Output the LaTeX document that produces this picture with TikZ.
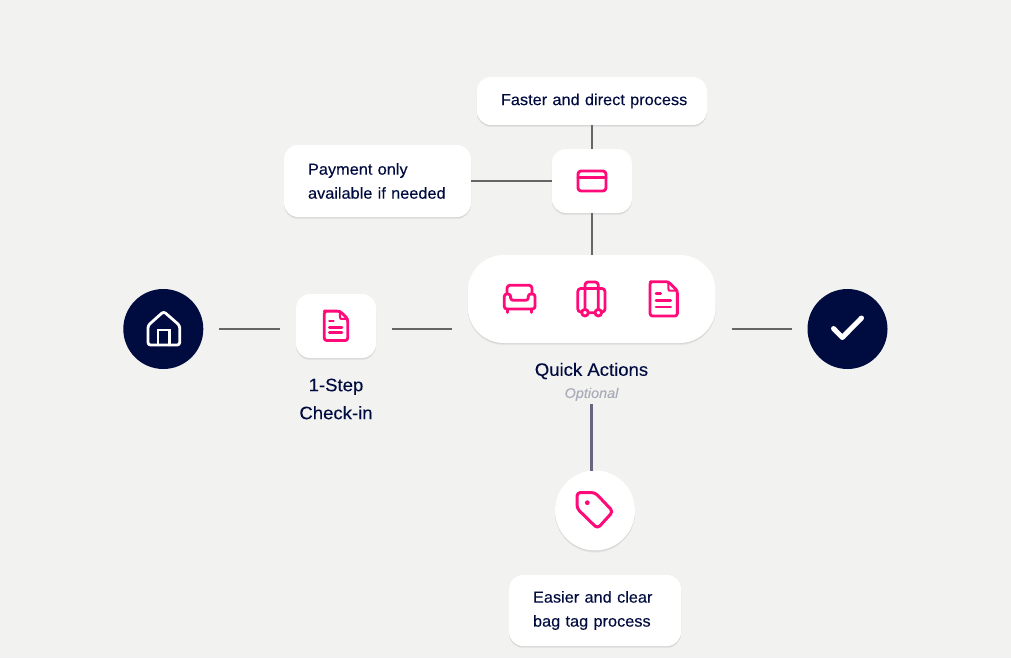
\documentclass[tikz,border=0pt]{standalone}
\usepackage{fontspec}
\setmainfont{Liberation Sans}[FakeStretch=1.03,FakeBold=0.12]
\usetikzlibrary{shadows}
\definecolor{bgc}{HTML}{F2F2F0}
\definecolor{navy}{HTML}{000B3F}
\definecolor{pinkc}{HTML}{FF0A78}
\definecolor{linec}{HTML}{666666}
\definecolor{linetag}{HTML}{66667F}
\definecolor{optc}{HTML}{A9ABB8}
\newcommand{\lowered}[1]{\raisebox{-1pt}{\mbox{#1}}}
\tikzset{
  softshadow/.style={general shadow={shadow yshift=-2.2pt,fill=black,opacity=.035},general shadow={shadow yshift=-1.4pt,fill=black,opacity=.05},general shadow={shadow yshift=-.7pt,fill=black,opacity=.05}},
  whitebox/.style={fill=white,draw=none,rounded corners=#1,softshadow,inner sep=0pt,outer sep=0pt},
  textbox/.style={whitebox=14pt,text=navy,font=\fontsize{15.85}{24}\selectfont,align=left,minimum height=48pt},
  round/.style={circle,minimum size=80pt,inner sep=0pt,outer sep=0pt},
  link/.style={draw=linec,line width=1.8pt},
  gapped/.style={link,shorten >=16pt,shorten <=16pt},
  pinkicon/.style={draw=pinkc,line width=2.8pt,line cap=round,line join=round,fill=none},
  whiteicon/.style={draw=white,line join=round,line cap=round,fill=none},
  caption/.style={text=navy,font=\fontsize{18}{28}\selectfont,align=center,inner sep=0pt},
}
\newcommand{\docicon}[3]{%
  \begin{scope}[shift={(#1,#2)},x=#3pt,y=-#3pt]
    \draw[pinkicon,rounded corners=2.5pt] (4.6,-17.1) -- (-11,-17.1) -- (-13.65,-17.1) -- (-13.65,17.2) -- (13.65,17.2) -- (13.65,-8.1) -- cycle;
    \draw[pinkicon,line width=2pt] (4.6,-17.1) -- (4.6,-10) -- (5.5,-8.1) -- (13.65,-8.1);
    \draw[pinkicon] (-7.7,-5.5) -- (-3,-5.5) (-7.7,1.9) -- (7,1.9) (-7.7,8.2) -- (7,8.2);
  \end{scope}}
\begin{document}
\begin{tikzpicture}[x=1pt,y=-1pt]
\fill[bgc] (0,0) rectangle (1011,658);
\useasboundingbox (0,0) rectangle (1011,658);

% nodes
\node[round,fill=navy] (home) at (163.3,329) {};
\node[whitebox=14pt,minimum width=80pt,minimum height=64pt] (checkin) at (336,326) {};
\node[whitebox=36pt,minimum width=248pt,minimum height=88pt] (quick) at (591.7,299) {};
\node[round,fill=navy] (done) at (847.5,329) {};
\node[whitebox=14pt,minimum width=80pt,minimum height=64pt] (pay) at (591.9,181) {};
\node[textbox,minimum width=230pt,text width=182pt] (faster) at (591.9,101) {\lowered{Faster and direct process}};
\node[textbox,minimum width=187pt,minimum height=72pt,text width=139pt] (payonly) at (377.5,181) {Payment only\\\mbox{available if needed}};
\node[round,fill=white,softshadow] (tag) at (595,510.5) {};
\node[textbox,minimum width=172pt,minimum height=71pt,text width=124pt] (easier) at (595,610.5) {\lowered{Easier and clear}\\\lowered{bag tag process}};
\node[caption] (qa) at (591.5,371) {Quick Actions};
\node[text=optc,font=\itshape\fontsize{14}{16}\selectfont,inner sep=0pt] (opt) at (591.5,394.3) {Optional};
\node[caption] (cap) at (336,399) {1-Step\\Check-in};

% connectors
\draw[gapped] (home.east) -- (checkin.west |- home.east);
\draw[gapped] (checkin.east |- home.east) -- (quick.west |- home.east);
\draw[gapped] (quick.east |- home.east) -- (done.west);
\draw[link] (pay.north) -- (faster.south);
\draw[link] (payonly.east) -- (pay.west);
\draw[link] (pay.south) -- (pay.south |- quick.north);
\coordinate (tagtop) at (591.5,471);
\coordinate (optbot) at (591.5,404);
\draw[draw=linetag,line width=2.3pt] (optbot) -- (tagtop);

% home icon
\draw[whiteicon,line width=2.8pt,rounded corners=2.5pt] (163.7,311.5) -- (148,325.5) -- (148,345) -- (179.7,345) -- (179.7,325.5) -- cycle;
\draw[whiteicon,line width=2.8pt,line join=miter] (158,345) -- (158,330) -- (169.5,330) -- (169.5,345);
% check icon
\draw[whiteicon,line width=5pt] (833.5,328.5) -- (842.3,337.5) -- (861.5,318);

% check-in document
\docicon{336}{325.8}{0.857}

% sofa
\draw[pinkicon,rounded corners=3pt] (507,294) -- (507,285.2) -- (532,285.2) -- (532,294);
\draw[pinkicon,rounded corners=2.5pt] (510.6,300.3) -- (510.6,294) -- (504.3,294) -- (504.3,309) -- (535,309) -- (535,294) -- (528.3,294) -- (528.3,300.3) -- cycle;
\draw[pinkicon] (507.5,309) -- (507.5,312.5) (531.5,309) -- (531.5,312.5);

% luggage
\draw[pinkicon,rounded corners=3pt] (581,312) -- (577.8,312) -- (577.8,288.5) -- (605,288.5) -- (605,312) -- (602,312);
\draw[pinkicon,rounded corners=3pt] (585,309.3) -- (585,282) -- (598.3,282) -- (598.3,309.3);
\draw[pinkicon] (585,312.7) circle (3.3pt) (598.3,312.7) circle (3.3pt) (588.3,312.7) -- (595,312.7);

% quick document
\docicon{663.7}{298.8}{1}

% card
\draw[pinkicon,rounded corners=3pt] (578,171) rectangle (606,191);
\draw[pinkicon] (578,177.8) -- (606,177.8);

% tag
\draw[pinkicon,line width=3pt,rounded corners=3.5pt] (577,492.5) -- (595,492.5) -- (613,511.5) -- (597.5,528.5) -- (577,508.5) -- cycle;
\fill[pinkc] (587.3,502.7) circle (2.4pt);
\end{tikzpicture}
\end{document}
